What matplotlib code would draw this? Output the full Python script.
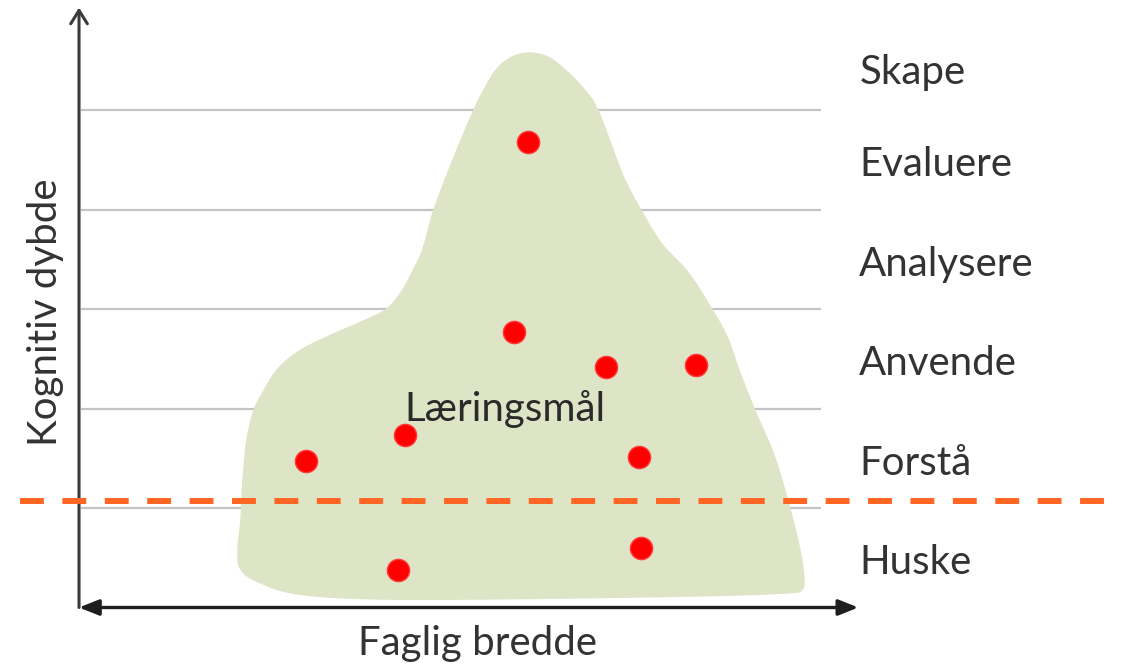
import matplotlib
matplotlib.use("Agg")
import numpy as np
import matplotlib.pyplot as plt
from matplotlib.patches import Polygon, FancyArrowPatch

plt.rcParams['font.family'] = ['Lato', 'DejaVu Sans']

# Bloom levels (bottom -> top)
levels = ["Huske", "Forstå", "Anvende", "Analysere", "Evaluere", "Skape"]
level_bounds = [1, 2, 3, 4, 5]
threshold = 1.07

# Learning goals (faglig bredde, kognitiv dybde)
goal_x = [4.51, 4.37, 5.29, 6.20, 3.28, 2.28, 5.63, 5.65, 3.20]
goal_y = [4.68, 2.77, 2.42, 2.44, 1.73, 1.47, 1.51, 0.60, 0.38]

# Outline of the "Læringsmål" region (control points of a closed smooth curve)
blob_x = [1.80, 1.62, 1.59, 1.62, 1.64, 1.68, 1.75, 1.85, 2.00, 2.22, 2.52, 2.84,
          3.08, 3.23, 3.35, 3.45, 3.56, 3.75, 3.96, 4.06, 4.18, 4.33, 4.51, 4.71,
          4.90, 5.09, 5.22, 5.41, 5.49, 5.65, 5.86, 6.11, 6.31, 6.51, 6.64, 6.79,
          6.99, 7.14, 7.25, 7.29, 7.27, 7.12, 6.24, 4.23, 2.95, 2.19]
blob_y = [0.25, 0.38, 0.58, 0.88, 1.28, 1.68, 1.98, 2.18, 2.41, 2.59, 2.74, 2.88,
          3.00, 3.17, 3.39, 3.61, 4.00, 4.50, 5.00, 5.20, 5.40, 5.53, 5.58, 5.54,
          5.40, 5.20, 5.00, 4.50, 4.30, 4.00, 3.66, 3.39, 3.09, 2.74, 2.38, 2.00,
          1.53, 1.03, 0.58, 0.30, 0.18, 0.14, 0.11, 0.08, 0.08, 0.13]


def smooth_closed(xs, ys, n=12):
    """Closed Catmull-Rom curve through the outline control points."""
    P = np.column_stack([xs, ys])
    m = len(P)
    out = []
    t = np.linspace(0, 1, n, endpoint=False)[:, None]
    for i in range(m):
        p0, p1, p2, p3 = P[i - 1], P[i], P[(i + 1) % m], P[(i + 2) % m]
        seg = 0.5 * ((2 * p1) + (-p0 + p2) * t + (2 * p0 - 5 * p1 + 4 * p2 - p3) * t ** 2
                     + (-p0 + 3 * p1 - 3 * p2 + p3) * t ** 3)
        out.append(seg)
    return np.vstack(out)


fig = plt.figure(figsize=(11.32, 6.67), dpi=100)
ax = fig.add_axes([0, 0, 1, 1])
ax.set_xlim(-0.794, 10.58)
ax.set_ylim(-0.598, 6.106)
ax.axis('off')

# region
ax.add_patch(Polygon(smooth_closed(blob_x, blob_y), closed=True, facecolor='#dde5c6',
                     edgecolor='none', zorder=1))

# level boundary lines
for b in level_bounds:
    ax.plot([0.02, 7.46], [b, b], color='#c4c4c4', lw=1.6, zorder=0.5,
            solid_capstyle='butt')

# axes arrows
ax.add_patch(FancyArrowPatch((0, 0), (0, 6.03), arrowstyle='->,head_length=8,head_width=5',
                             color='#3a3a3a', lw=2.2, zorder=3, shrinkA=0, shrinkB=0,
                             mutation_scale=1.2))
ax.add_patch(FancyArrowPatch((0, 0), (7.83, 0), arrowstyle='<|-|>,head_length=10,head_width=4',
                             color='#1e1e1e', lw=2.4, zorder=3, shrinkA=0, shrinkB=0,
                             mutation_scale=1.2))

# threshold dashed line
ax.plot([-0.59, 10.44], [threshold, threshold], color='#ff6624', lw=4.3,
        dashes=(4, 3.1), zorder=4)

# learning goals
ax.plot(goal_x, goal_y, 'o', color='#ff0000', markersize=16, markeredgecolor='#ff3a3a',
        markeredgewidth=1, zorder=5)

# level labels
for i, name in enumerate(levels):
    y = i + 0.45 if i < len(levels) - 1 else i + 0.38
    ax.text(7.84, y, name, fontsize=29, color='#333333', va='center', ha='left')

ax.text(3.27, 2.0, "Læringsmål", fontsize=29, color='#2a2a2a', va='center', ha='left',
        zorder=6)
ax.text(-0.34, 2.97, "Kognitiv dybde", fontsize=29, color='#333333', rotation=90,
        va='center', ha='center')
ax.text(4.0, -0.36, "Faglig bredde", fontsize=29, color='#333333', va='center',
        ha='center')

fig.savefig("out.png", dpi=100, facecolor='white')
